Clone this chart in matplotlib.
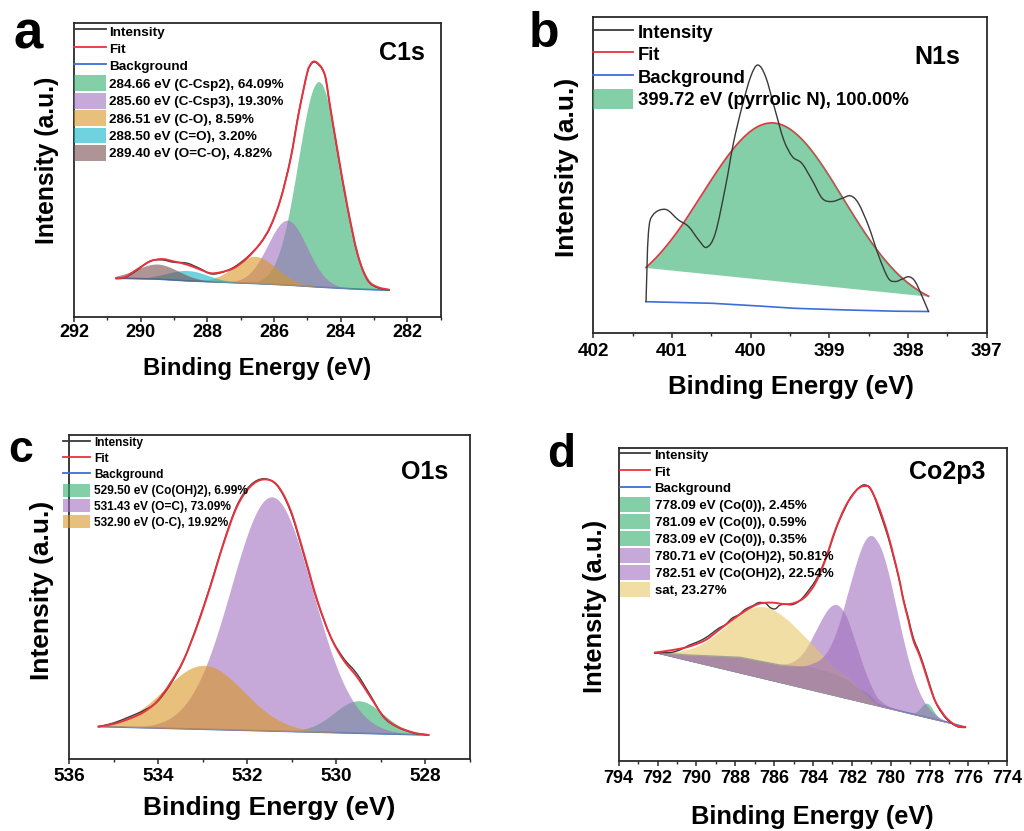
import numpy as np
import matplotlib
matplotlib.use("Agg")
import matplotlib.pyplot as plt
from matplotlib.patches import Patch, PathPatch
from matplotlib.path import Path
from matplotlib.lines import Line2D
from matplotlib.ticker import MultipleLocator, FormatStrFormatter

plt.rcParams['font.family'] = ['Liberation Sans', 'DejaVu Sans']
plt.rcParams['font.weight'] = 'bold'
plt.rcParams['axes.labelweight'] = 'bold'

INT_C = '#3a3a3a'
FIT_C = '#e8323e'
BG_C = '#3b6fd4'
GREEN = '#34af6e'
PURPLE = '#a070be'
YELLOW = '#d99623'
CYAN = '#0fb6cb'
BROWN = '#7b4d50'
SAT = '#e6c869'
ALPHA = 0.6

# ---------------- Panel a : C1s ----------------
a_fit_x = [290.74, 290.47, 290.12, 289.72, 289.36, 289.01, 288.61, 288.21, 287.91, 287.61, 287.21, 286.81,
           286.41, 286.11, 285.81, 285.51, 285.26, 285.01, 284.90, 284.81, 284.71, 284.56, 284.45, 284.35,
           284.10, 283.80, 283.50, 283.20, 282.90, 282.55]
a_fit_y = [13.2, 13.6, 16.1, 18.9, 19.7, 18.9, 17.8, 16.1, 14.9, 15.2, 16.6, 20.0, 25.1, 30.8, 39.8, 53.4,
           69.2, 82.8, 85.9, 86.8, 86.4, 84.5, 81.1, 73.8, 56.8, 37.6, 21.7, 12.7, 10.2, 9.3]
a_int_x = a_fit_x
a_int_y = [13.0, 13.4, 15.8, 19.0, 19.4, 18.6, 18.3, 16.4, 14.7, 15.0, 16.9, 20.3, 25.0, 30.6, 39.9, 53.6,
           69.4, 82.6, 85.7, 86.6, 86.2, 84.3, 81.0, 73.6, 56.5, 37.3, 21.5, 12.6, 10.0, 9.2]
a_bg_x = [290.74, 289.50, 288.60, 286.56, 285.60, 284.66, 283.50, 282.55]
a_bg_y = [13.2, 12.9, 12.3, 11.4, 10.9, 10.2, 9.5, 9.1]
a_peak_labels = ['284.66 eV (C-Csp2), 64.09%', '285.60 eV (C-Csp3), 19.30%', '286.51 eV (C-O), 8.59%',
                 '288.50 eV (C=O), 3.20%', '289.40 eV (O=C-O), 4.82%']
a_peak_centers = [284.66, 285.60, 286.56, 288.60, 289.50]
a_peak_heights = [69.8, 22.0, 9.2, 3.5, 5.1]
a_peak_fwhm = [1.45, 1.38, 1.47, 1.44, 1.49]
a_peak_colors = [GREEN, PURPLE, YELLOW, CYAN, BROWN]
a_ticks = [292, 290, 288, 286, 284, 282]

# ---------------- Panel b : N1s ----------------
b_int_x = [401.33, 401.30, 401.24, 401.08, 400.92, 400.79, 400.66, 400.56, 400.45, 400.32, 400.22, 400.11,
           400.00, 399.91, 399.81, 399.69, 399.58, 399.47, 399.35, 399.22, 399.09, 398.97, 398.84, 398.73,
           398.63, 398.50, 398.37, 398.25, 398.16, 398.08, 397.99, 397.91, 397.82, 397.74]
b_int_y = [10.0, 31.6, 37.5, 39.2, 35.9, 33.8, 29.5, 27.2, 31.6, 46.4, 60.1, 71.7, 81.2, 84.9, 81.2, 70.7,
           61.2, 55.9, 53.8, 48.5, 42.7, 41.7, 42.7, 43.5, 41.1, 33.8, 24.3, 17.4, 16.4, 17.1, 17.9, 16.4,
           11.6, 6.9]
b_bg_x = [401.33, 400.49, 399.90, 399.43, 398.80, 398.16, 397.74]
b_bg_y = [10.0, 9.5, 8.65, 7.9, 7.4, 7.0, 6.9]
b_peak_labels = ['399.72 eV (pyrrolic N), 100.00%']
b_peak_centers = [399.71]
b_peak_heights = [58.2]
b_peak_fwhm = [2.08]
b_peak_colors = [GREEN]
b_ticks = [402, 401, 400, 399, 398, 397]

# ---------------- Panel c : O1s ----------------
c_fit_x = [535.34, 535.00, 534.63, 534.33, 534.03, 533.73, 533.43, 533.13, 532.83, 532.53, 532.23, 531.93,
           531.63, 531.33, 531.03, 530.73, 530.43, 530.13, 529.84, 529.54, 529.24, 528.94, 528.64, 528.26,
           527.93]
c_fit_y = [10.1, 10.9, 12.6, 14.5, 17.8, 23.4, 30.6, 40.9, 53.2, 66.6, 77.9, 84.1, 86.3, 84.6, 76.9, 63.5,
           49.1, 37.8, 30.6, 25.5, 19.3, 13.2, 10.1, 8.2, 7.5]
c_int_x = c_fit_x
c_int_y = [10.0, 11.2, 13.2, 15.0, 17.6, 23.0, 30.4, 41.2, 53.5, 66.9, 78.3, 84.5, 86.5, 84.4, 76.5, 63.0,
           48.8, 37.9, 31.2, 26.4, 19.8, 13.0, 10.0, 8.1, 7.5]
c_bg_x = [535.34, 527.93]
c_bg_y = [10.1, 7.5]
c_peak_labels = ['529.50 eV (Co(OH)2), 6.99%', '531.43 eV (O=C), 73.09%', '532.90 eV (O-C), 19.92%']
c_peak_centers = [529.50, 531.45, 532.97]
c_peak_heights = [10.0, 72.2, 19.7]
c_peak_fwhm = [1.3, 2.15, 2.1]
c_peak_colors = [GREEN, PURPLE, YELLOW]
c_ticks = [536, 534, 532, 530, 528]

# ---------------- Panel d : Co2p3 ----------------
d_fit_x = [792.15, 791.26, 790.40, 789.54, 788.85, 788.17, 787.48, 786.80, 786.11, 785.42, 784.91, 784.39,
           783.88, 783.37, 782.85, 782.34, 781.83, 781.55, 781.31, 781.05, 780.62, 780.11, 779.59, 779.35,
           779.09, 778.84, 778.49, 778.15, 777.81, 777.55, 777.12, 776.60, 776.16]
d_fit_y = [34.6, 35.4, 36.5, 38.6, 41.8, 45.0, 48.0, 50.2, 50.6, 50.1, 50.6, 52.5, 56.8, 64.2, 73.9, 81.3,
           86.1, 87.6, 87.9, 87.2, 81.3, 71.7, 58.9, 51.4, 45.0, 38.6, 33.3, 26.9, 20.5, 17.3, 13.6, 11.1, 10.8]
d_int_x = [792.15, 791.70, 791.26, 790.80, 790.40, 789.95, 789.54, 789.20, 788.85, 788.50, 788.17, 787.80,
           787.48, 787.10, 786.80, 786.45, 786.20, 785.95, 785.70, 785.42, 785.15, 784.91, 784.65, 784.39,
           784.10, 783.88, 783.60, 783.37, 783.10, 782.85, 782.60, 782.34, 782.10, 781.83, 781.60, 781.39,
           781.20, 781.05, 780.85, 780.62, 780.40, 780.11, 779.85, 779.59, 779.35, 779.09, 778.84, 778.49,
           778.15, 777.81, 777.55, 777.12, 776.60, 776.16]
d_int_y = [34.4, 34.6, 34.7, 35.6, 36.9, 38.0, 39.3, 40.8, 42.4, 43.6, 45.6, 46.8, 48.5, 49.6, 50.6, 50.4,
           49.0, 48.6, 49.8, 50.1, 49.9, 50.3, 51.4, 53.2, 55.6, 57.6, 61.0, 64.5, 69.0, 73.6, 77.5, 80.9,
           84.0, 86.2, 87.6, 88.3, 88.0, 87.0, 84.6, 80.5, 76.6, 71.0, 65.0, 58.6, 51.8, 45.6, 39.4, 33.9,
           27.5, 20.8, 17.0, 13.3, 11.0, 10.6]
d_bg_x = [792.15, 790.33, 787.76, 785.70, 783.98, 782.27, 781.40, 780.72, 779.50, 778.20, 777.00, 776.16]
d_bg_y = [34.6, 33.8, 33.1, 30.6, 29.6, 25.8, 21.5, 17.9, 15.9, 14.0, 12.2, 10.8]
d_peak_labels = ['778.09 eV (Co(0)), 2.45%', '781.09 eV (Co(0)), 0.59%', '783.09 eV (Co(0)), 0.35%',
                 '780.71 eV (Co(OH)2), 50.81%', '782.51 eV (Co(OH)2), 22.54%', 'sat, 23.27%']
d_peak_centers = [778.13, 781.09, 783.09, 780.88, 782.77, 786.45]
d_peak_heights = [4.5, 1.2, 0.8, 53.0, 23.0, 17.7]
d_peak_fwhm = [0.75, 1.0, 1.0, 2.8, 2.3, 4.4]
d_peak_colors = [GREEN, GREEN, GREEN, PURPLE, PURPLE, SAT]
d_draw_order = [0, 1, 2, 4, 5, 3]
d_ticks = [794, 792, 790, 788, 786, 784, 782, 780, 778, 776, 774]


def gauss(x, c, h, w):
    s = w / 2.3548
    return h * np.exp(-0.5 * ((x - c) / s) ** 2)


def base_curve(bx, by, n=700):
    x = np.linspace(min(bx), max(bx), n)
    order = np.argsort(bx)
    y = np.interp(x, np.asarray(bx)[order], np.asarray(by)[order])
    return x, y


def smooth_line(ax, xs, ys, color, lw, z):
    """Draw a line through the points with smooth (Catmull-Rom style) connections."""
    pts = np.column_stack([xs, ys]).astype(float)
    n = len(pts)
    verts = [pts[0]]
    codes = [Path.MOVETO]
    for i in range(n - 1):
        p0 = pts[i - 1] if i > 0 else pts[i]
        p1 = pts[i]
        p2 = pts[i + 1]
        p3 = pts[i + 2] if i + 2 < n else pts[i + 1]
        verts += [p1 + (p2 - p0) / 6.0, p2 - (p3 - p1) / 6.0, p2]
        codes += [Path.CURVE4] * 3
    ax.add_patch(PathPatch(Path(verts, codes), fill=False, edgecolor=color, lw=lw, zorder=z,
                           capstyle='round', joinstyle='round'))


def draw_components(ax, bx, by, centers, heights, fwhms, colors, chord=False, z=2, order=None):
    x, bg = base_curve(bx, by)
    idx = order if order is not None else range(len(centers))
    for i in idx:
        top = bg + gauss(x, centers[i], heights[i], fwhms[i])
        low = np.linspace(top[0], top[-1], len(x)) if chord else bg
        ax.fill_between(x, low, top, color=colors[i], alpha=ALPHA, lw=0, zorder=z)
    return x, bg


def style_axes(ax, xlim, ticks, minor, ticksize, pad):
    ax.set_xlim(*xlim)
    ax.set_ylim(0, 100)
    ax.set_xticks(ticks)
    ax.xaxis.set_minor_locator(MultipleLocator(minor))
    ax.xaxis.set_major_formatter(FormatStrFormatter('%d'))
    ax.set_yticks([])
    ax.tick_params(axis='x', which='major', direction='out', length=3.6, width=1.1,
                   labelsize=ticksize, pad=pad, top=False, color='#2a2a2a')
    ax.tick_params(axis='x', which='minor', direction='out', length=2.2, width=1.0, top=False,
                   color='#2a2a2a')
    for s in ax.spines.values():
        s.set_linewidth(1.3)
        s.set_color('#2a2a2a')


def set_labels(ax, xfs, yfs, xpos, ypos):
    ax.set_xlabel('Binding Energy (eV)', fontsize=xfs, fontweight='bold')
    ax.set_ylabel('Intensity (a.u.)', fontsize=yfs, fontweight='bold')
    ax.xaxis.label.set_va('center')
    ax.xaxis.set_label_coords(*xpos)
    ax.yaxis.label.set_va('center')
    ax.yaxis.set_label_coords(*ypos)


def add_legend(ax, colors, labels, fs, hl, hh, ls, htp, anchor):
    handles = [Line2D([], [], color=INT_C, lw=1.3), Line2D([], [], color=FIT_C, lw=1.3),
               Line2D([], [], color=BG_C, lw=1.3)]
    handles += [Patch(facecolor=c, alpha=ALPHA, edgecolor='none') for c in colors]
    ax.legend(handles, ['Intensity', 'Fit', 'Background'] + list(labels), loc='upper left',
              bbox_to_anchor=anchor, frameon=False, fontsize=fs, handlelength=hl, handleheight=hh,
              labelspacing=ls, handletextpad=htp, borderpad=0, borderaxespad=0)


fig = plt.figure(figsize=(10.24, 8.31), dpi=100)

# ---- a ----
ax = fig.add_axes([0.0723, 0.6185, 0.3581, 0.3542])
ax.plot(a_bg_x, a_bg_y, color=BG_C, lw=1.2, zorder=1)
draw_components(ax, a_bg_x, a_bg_y, a_peak_centers, a_peak_heights, a_peak_fwhm, a_peak_colors)
smooth_line(ax, a_int_x, a_int_y, INT_C, 1.0, 3)
smooth_line(ax, a_fit_x, a_fit_y, FIT_C, 1.4, 4)
style_axes(ax, (292, 281), a_ticks, 1, 13, 1.2)
set_labels(ax, 17.2, 17.8, (0.5, -0.174), (-0.0745, 0.531))
add_legend(ax, a_peak_colors, a_peak_labels, 9.7, 2.37, 1.41, 0.13, 0.26, (0.0, 0.998))
ax.text(0.895, 0.896, 'C1s', transform=ax.transAxes, fontsize=18, fontweight='bold', ha='center', va='center')

# ---- b ----
ax = fig.add_axes([0.5794, 0.5989, 0.3842, 0.3803])
ax.plot(b_bg_x, b_bg_y, color=BG_C, lw=1.2, zorder=1)
bx, bbg = base_curve(b_bg_x, b_bg_y)
b_fit = bbg + gauss(bx, b_peak_centers[0], b_peak_heights[0], b_peak_fwhm[0])
ax.plot(bx, b_fit, color=FIT_C, lw=1.3, zorder=2)
draw_components(ax, b_bg_x, b_bg_y, b_peak_centers, b_peak_heights, b_peak_fwhm, b_peak_colors,
                chord=True, z=3)
smooth_line(ax, b_int_x, b_int_y, INT_C, 1.0, 4)
style_axes(ax, (402, 397), b_ticks, 0.5, 13.7, 3.3)
set_labels(ax, 18.5, 19, (0.503, -0.169), (-0.067, 0.525))
add_legend(ax, b_peak_colors, b_peak_labels, 13.3, 2.16, 1.29, 0.125, 0.27, (0.0, 0.986))
ax.text(0.874, 0.875, 'N1s', transform=ax.transAxes, fontsize=18, fontweight='bold', ha='center', va='center')

# ---- c ----
ax = fig.add_axes([0.0674, 0.0863, 0.3916, 0.3902])
ax.plot(c_bg_x, c_bg_y, color=BG_C, lw=1.2, zorder=1)
draw_components(ax, c_bg_x, c_bg_y, c_peak_centers, c_peak_heights, c_peak_fwhm, c_peak_colors)
smooth_line(ax, c_int_x, c_int_y, INT_C, 1.0, 3)
smooth_line(ax, c_fit_x, c_fit_y, FIT_C, 1.4, 4)
style_axes(ax, (536, 527), c_ticks, 1, 13.7, 2.6)
set_labels(ax, 19, 19, (0.499, -0.151), (-0.068, 0.522))
add_legend(ax, c_peak_colors, c_peak_labels, 8.6, 2.25, 1.3, 0.2, 0.3, (-0.014, 0.9975))
ax.text(0.888, 0.887, 'O1s', transform=ax.transAxes, fontsize=18, fontweight='bold', ha='center', va='center')

# ---- d ----
ax = fig.add_axes([0.6042, 0.0846, 0.3795, 0.3759])
ax.plot(d_bg_x, d_bg_y, color=BG_C, lw=1.0, zorder=1)
draw_components(ax, d_bg_x, d_bg_y, d_peak_centers, d_peak_heights, d_peak_fwhm, d_peak_colors,
                chord=True, z=2, order=d_draw_order)
smooth_line(ax, d_int_x, d_int_y, INT_C, 1.0, 3)
smooth_line(ax, d_fit_x, d_fit_y, FIT_C, 1.4, 4)
style_axes(ax, (794, 774), d_ticks, 1, 13, 3.2)
set_labels(ax, 18.3, 18.4, (0.497, -0.179), (-0.060, 0.493))
add_legend(ax, d_peak_colors, d_peak_labels, 9.5, 2.27, 1.37, 0.144, 0.33, (0.004, 1.0048))
ax.text(0.845, 0.925, 'Co2p3', transform=ax.transAxes, fontsize=18, fontweight='bold', ha='center', va='center')

# panel letters
fig.text(13.3 / 1024, 1 - 48.3 / 831, 'a', fontsize=38, fontweight='bold', ha='left', va='baseline')
fig.text(528.7 / 1024, 1 - 46.7 / 831, 'b', fontsize=36, fontweight='bold', ha='left', va='baseline')
fig.text(8.3 / 1024, 1 - 461.7 / 831, 'c', fontsize=32, fontweight='bold', ha='left', va='baseline')
fig.text(547 / 1024, 1 - 466.7 / 831, 'd', fontsize=33, fontweight='bold', ha='left', va='baseline')

fig.savefig('out.png', dpi=100)
